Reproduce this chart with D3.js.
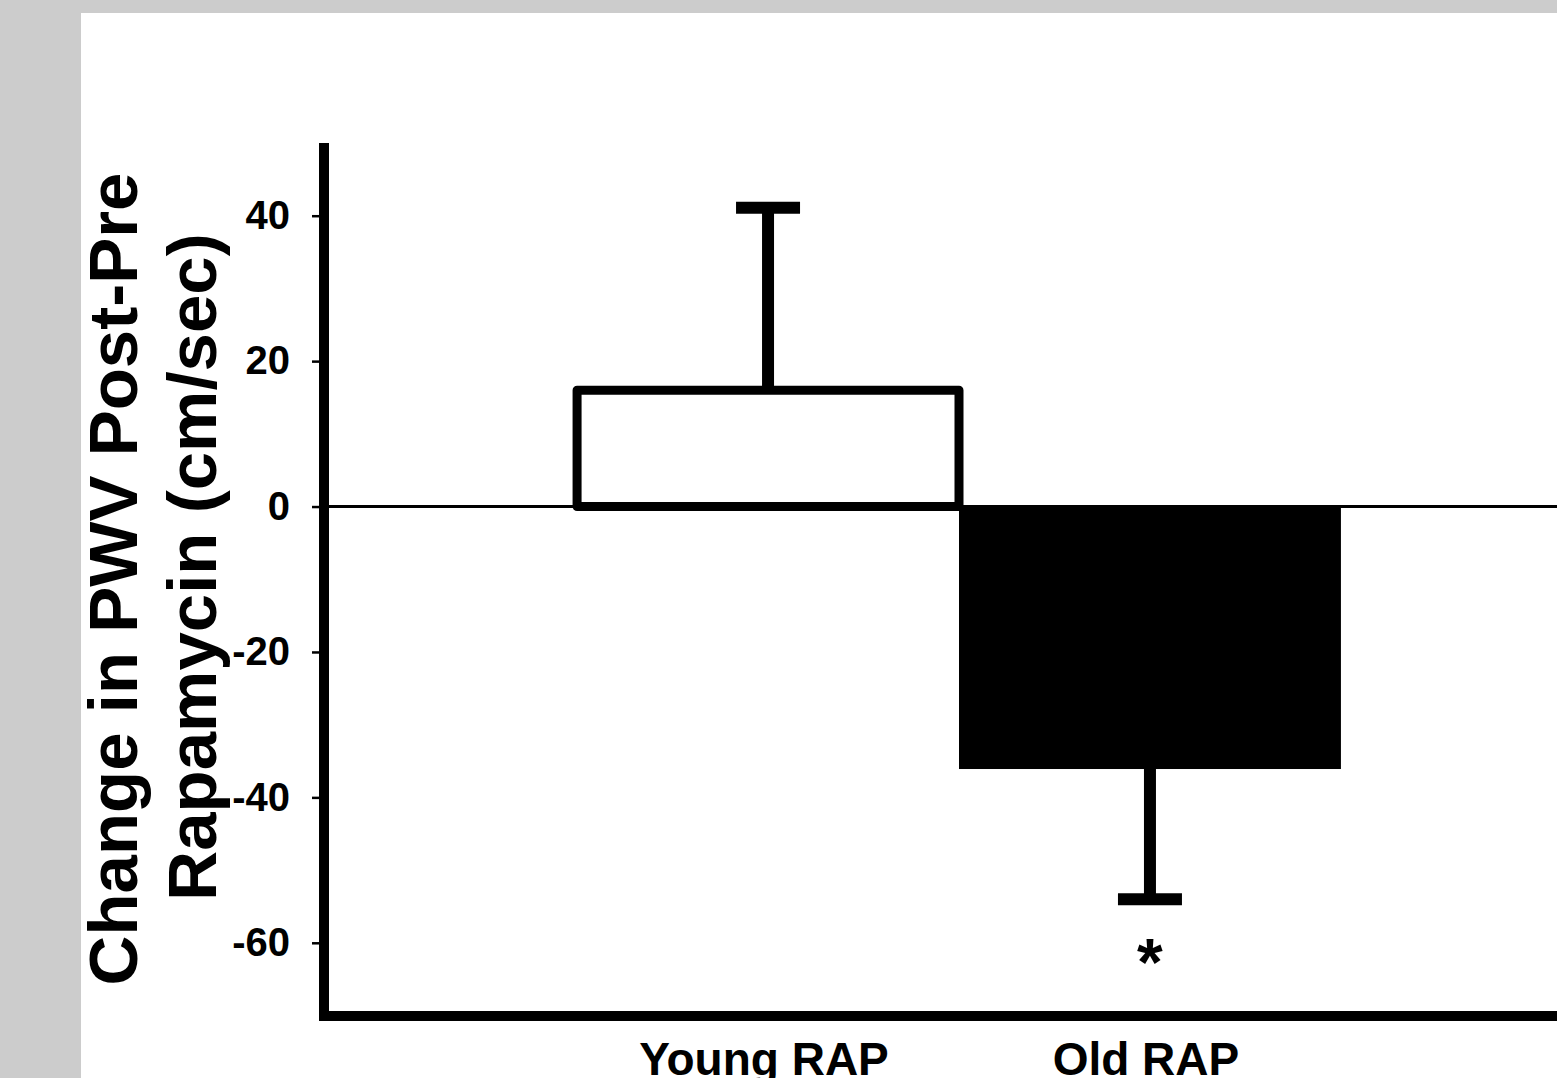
<!DOCTYPE html>
<html>
<head>
<meta charset="utf-8">
<script src="https://d3js.org/d3.v7.min.js"></script>
<style>
	body { margin: 0; background: #cccccc; overflow: hidden; }
	text { font-family: "Liberation Sans", Arial, sans-serif; font-weight: bold; fill: #000; }
</style>
</head>
<body>
<script>
var groups = ['Young RAP', 'Old RAP'];
var means = [16.0, -36.1];
var errors = [25.1, -17.9];									//signed SEM, drawn away from zero
var fills = ['#ffffff', '#000000'];
var yTicks = [40, 20, 0, -20, -40, -60];
var stars = ['', '*'];
var titleLines = ['Change in PWV Post-Pre', 'Rapamycin (cm/sec)'];

	W = 1557;
	H = 1078;

var svg = d3.select("body").append("svg")
	.attr("width", W)
	.attr("height", H);

svg.append("rect")											//white panel
	.attr("x", 81)
	.attr("y", 13)
	.attr("width", W - 81)
	.attr("height", H - 13)
	.attr("fill", "#ffffff");

var y = d3.scaleLinear().domain([-70, 50]).range([1015.5, 143]);
var x = d3.scaleBand().domain(groups).range([325, 1593]).paddingInner(0).paddingOuter(0.66);

var data = groups.map(function(g, i){ return {g: g, m: means[i], e: errors[i], f: fills[i], s: stars[i]}; });

// zero line
svg.append("line")
	.attr("x1", 325).attr("x2", W)
	.attr("y1", y(0)).attr("y2", y(0))
	.attr("stroke", "#000").attr("stroke-width", 3);

// error bars (stem + cap)
svg.selectAll(".stem")
		.data(data)
	.enter().append("line")
		.attr("class", "stem")
		.attr("x1", function(d){ return x(d.g) + x.bandwidth() / 2; })
		.attr("x2", function(d){ return x(d.g) + x.bandwidth() / 2; })
		.attr("y1", function(d){ return y(d.m); })
		.attr("y2", function(d){ return y(d.m + d.e); })
		.attr("stroke", "#000")
		.attr("stroke-width", 12);

svg.selectAll(".cap")
		.data(data)
	.enter().append("line")
		.attr("class", "cap")
		.attr("x1", function(d){ return x(d.g) + x.bandwidth() / 2 - 32; })
		.attr("x2", function(d){ return x(d.g) + x.bandwidth() / 2 + 32; })
		.attr("y1", function(d){ return y(d.m + d.e); })
		.attr("y2", function(d){ return y(d.m + d.e); })
		.attr("stroke", "#000")
		.attr("stroke-width", 12);

// bars
svg.selectAll(".bar")
		.data(data)
	.enter().append("rect")
		.attr("class", "bar")
		.attr("x", function(d){ return x(d.g); })
		.attr("y", function(d){ return y(Math.max(0, d.m)); })
		.attr("width", x.bandwidth())
		.attr("height", function(d){ return Math.abs(y(d.m) - y(0)); })
		.attr("fill", function(d){ return d.f; })
		.attr("stroke", "#000")
		.attr("stroke-width", function(d){ return d.m > 0 ? 9 : 0; })
		.attr("stroke-linejoin", "round");

// significance marks
svg.selectAll(".star")
		.data(data)
	.enter().append("text")
		.attr("class", "star")
		.attr("x", function(d){ return x(d.g) + x.bandwidth() / 2; })
		.attr("y", function(d){ return y(d.m + d.e) + 86; })
		.attr("text-anchor", "middle")
		.style("font-size", "66px")
		.text(function(d){ return d.s; });

// y axis
var yAxis = svg.append("g")
	.attr("transform", "translate(320,0)")
	.call(d3.axisLeft(y).tickValues(yTicks).tickSize(8).tickPadding(22).tickFormat(function(d){ return String(d); }));
yAxis.select(".domain").remove();
yAxis.selectAll(".tick line").attr("stroke-width", 2.5);
yAxis.selectAll(".tick text")
	.style("font-size", "40px")
	.style("font-family", "'Liberation Sans', Arial, sans-serif")
	.style("font-weight", "bold");

svg.append("line")											//y axis spine
	.attr("x1", 324).attr("x2", 324)
	.attr("y1", 143).attr("y2", 1021)
	.attr("stroke", "#000").attr("stroke-width", 10);

svg.append("line")											//x axis spine
	.attr("x1", 319).attr("x2", W)
	.attr("y1", 1016).attr("y2", 1016)
	.attr("stroke", "#000").attr("stroke-width", 10);

// x labels (cut by the bottom edge, as in the source figure)
svg.selectAll(".xlab")
		.data(groups)
	.enter().append("text")
		.attr("class", "xlab")
		.attr("x", function(d){ return x(d) + x.bandwidth() / 2 - 4; })
		.attr("y", 1075)
		.attr("text-anchor", "middle")
		.style("font-size", "46px")
		.text(function(d){ return d; });

// y title, two rotated lines
var titlePos = [[137, 579], [216, 567]];
svg.selectAll(".ytitle")
		.data(titleLines)
	.enter().append("text")
		.attr("class", "ytitle")
		.attr("transform", function(d, i){ return "translate(" + titlePos[i][0] + "," + titlePos[i][1] + ") rotate(-90)"; })
		.attr("text-anchor", "middle")
		.style("font-size", "69px")
		.text(function(d){ return d; });
</script>
</body>
</html>
